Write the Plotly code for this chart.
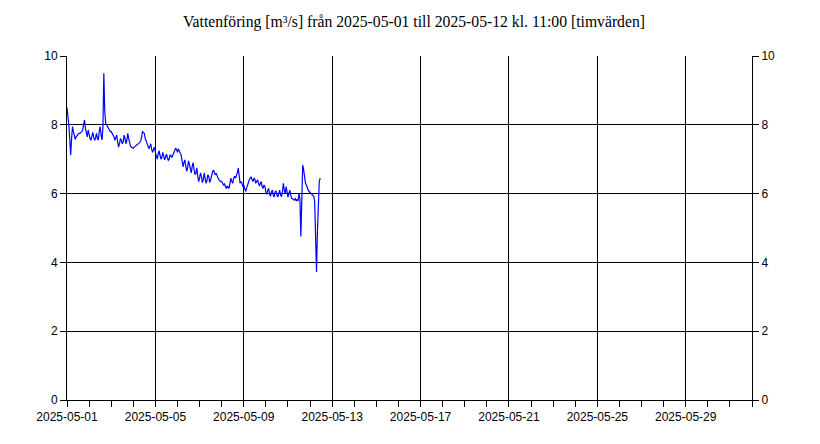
import pandas as pd
import plotly.graph_objects as go

title_text = "Vattenföring [m³/s] från 2025-05-01 till 2025-05-12 kl. 11:00 [timvärden]"
start_time = "2025-05-01 00:00"
x_range = ["2025-05-01", "2025-06-01"]
y_range = [0, 10]
y_ticks = [0, 2, 4, 6, 8, 10]

# hourly flow values, one row per day
flow_day01 = [8.5, 8.3, 8.0, 7.6, 7.12, 7.6, 7.95, 7.8, 7.62, 7.58, 7.65, 7.7,
              7.72, 7.75, 7.75, 7.78, 7.8, 7.85, 8.0, 8.14, 7.9, 7.75, 7.65, 7.85]
flow_day02 = [7.7, 7.6, 7.55, 7.7, 7.78, 7.65, 7.55, 7.6, 7.75, 7.62, 7.55, 7.8,
              7.95, 7.7, 7.56, 7.9, 9.5, 8.4, 8.05, 8.0, 7.95, 7.9, 7.85, 7.8]
flow_day03 = [7.8, 7.75, 7.7, 7.65, 7.55, 7.62, 7.7, 7.5, 7.35, 7.45, 7.6, 7.55,
              7.45, 7.5, 7.7, 7.6, 7.45, 7.55, 7.75, 7.6, 7.45, 7.38, 7.35, 7.34]
flow_day04 = [7.32, 7.35, 7.38, 7.4, 7.42, 7.44, 7.46, 7.48, 7.52, 7.65, 7.8, 7.78,
              7.75, 7.6, 7.5, 7.45, 7.38, 7.3, 7.4, 7.45, 7.28, 7.2, 7.3, 7.35]
flow_day05 = [7.2, 7.05, 7.0, 7.15, 7.25, 7.12, 7.0, 7.05, 7.2, 7.1, 6.98, 7.05,
              7.15, 7.05, 6.97, 7.0, 7.12, 7.1, 7.05, 7.12, 7.2, 7.25, 7.32, 7.28]
flow_day06 = [7.2, 7.3, 7.25, 7.2, 7.12, 6.95, 6.78, 6.9, 6.98, 6.8, 6.65, 6.75,
              6.95, 6.85, 6.65, 6.6, 6.8, 6.9, 6.7, 6.55, 6.6, 6.75, 6.5, 6.35]
flow_day07 = [6.45, 6.6, 6.5, 6.32, 6.4, 6.6, 6.45, 6.3, 6.38, 6.55, 6.5, 6.32,
              6.4, 6.55, 6.62, 6.69, 6.6, 6.55, 6.59, 6.5, 6.45, 6.4, 6.36, 6.35]
flow_day08 = [6.35, 6.3, 6.25, 6.28, 6.2, 6.15, 6.22, 6.18, 6.15, 6.3, 6.45, 6.35,
              6.3, 6.45, 6.5, 6.45, 6.52, 6.6, 6.74, 6.5, 6.3, 6.35, 6.3, 6.2]
flow_day09 = [6.25, 6.15, 6.06, 6.15, 6.25, 6.3, 6.4, 6.45, 6.49, 6.4, 6.35, 6.45,
              6.42, 6.3, 6.35, 6.4, 6.3, 6.22, 6.3, 6.35, 6.2, 6.15, 6.25, 6.2]
flow_day10 = [6.05, 5.98, 6.1, 6.15, 6.0, 5.92, 6.05, 6.1, 5.95, 5.9, 6.05, 6.08,
              5.95, 5.9, 6.0, 6.1, 5.95, 5.91, 6.05, 6.3, 6.1, 6.0, 6.2, 6.05]
flow_day11 = [5.9, 6.0, 6.1, 5.95, 5.86, 5.85, 5.82, 5.81, 5.85, 5.8, 5.82, 5.8,
              6.0, 5.85, 4.75, 5.9, 6.83, 6.7, 6.45, 6.3, 6.25, 6.15, 6.1, 6.06]
flow_day12 = [6.03, 6.0, 5.98, 5.96, 5.92, 5.78, 4.8, 3.72, 4.9, 6.0, 6.35, 6.45]

flow = (flow_day01 + flow_day02 + flow_day03 + flow_day04 + flow_day05 + flow_day06
        + flow_day07 + flow_day08 + flow_day09 + flow_day10 + flow_day11 + flow_day12)
times = pd.date_range(start_time, periods=len(flow), freq="h")

fig = go.Figure()
fig.add_trace(go.Scatter(x=times, y=flow, mode="lines",
                         line=dict(color="#0000ff", width=1.2),
                         hoverinfo="x+y", showlegend=False))
# invisible trace to anchor the right-hand axis
fig.add_trace(go.Scatter(x=[times[0]], y=[None], yaxis="y2",
                         mode="lines", showlegend=False, hoverinfo="skip"))

tick_font = dict(family="Liberation Sans, Arial, sans-serif", size=12, color="#000000")

fig.update_layout(
    width=812, height=436,
    margin=dict(l=59, r=68, t=48, b=44),
    paper_bgcolor="white", plot_bgcolor="white",
    title=dict(text=title_text, x=0.5, xanchor="center", y=1 - 14 / 436, yanchor="middle",
               font=dict(family="Liberation Serif, Times New Roman, serif", size=15.7, color="#000000")),
    xaxis=dict(
        type="date", range=x_range,
        tick0="2025-05-01", dtick=4 * 86400000, tickformat="%Y-%m-%d",
        showgrid=True, gridcolor="#000000", gridwidth=1,
        showline=True, linecolor="#000000", linewidth=1,
        ticks="outside", ticklen=6, tickcolor="#000000", tickwidth=1,
        tickfont=tick_font, zeroline=False,
        minor=dict(dtick=86400000, tick0="2025-05-01", ticks="outside", ticklen=6,
                   tickcolor="#000000", tickwidth=1, showgrid=False),
    ),
    yaxis=dict(
        range=y_range, tickvals=y_ticks,
        showgrid=True, gridcolor="#000000", gridwidth=1,
        showline=True, linecolor="#000000", linewidth=1,
        ticks="outside", ticklen=6, tickcolor="#000000", tickwidth=1,
        tickfont=tick_font, zeroline=False,
    ),
    yaxis2=dict(
        range=y_range, tickvals=y_ticks, overlaying="y", side="right",
        showgrid=False, showline=True, linecolor="#000000", linewidth=1,
        ticks="outside", ticklen=6, tickcolor="#000000", tickwidth=1,
        tickfont=tick_font, zeroline=False,
    ),
)

fig.write_html("out.html")
